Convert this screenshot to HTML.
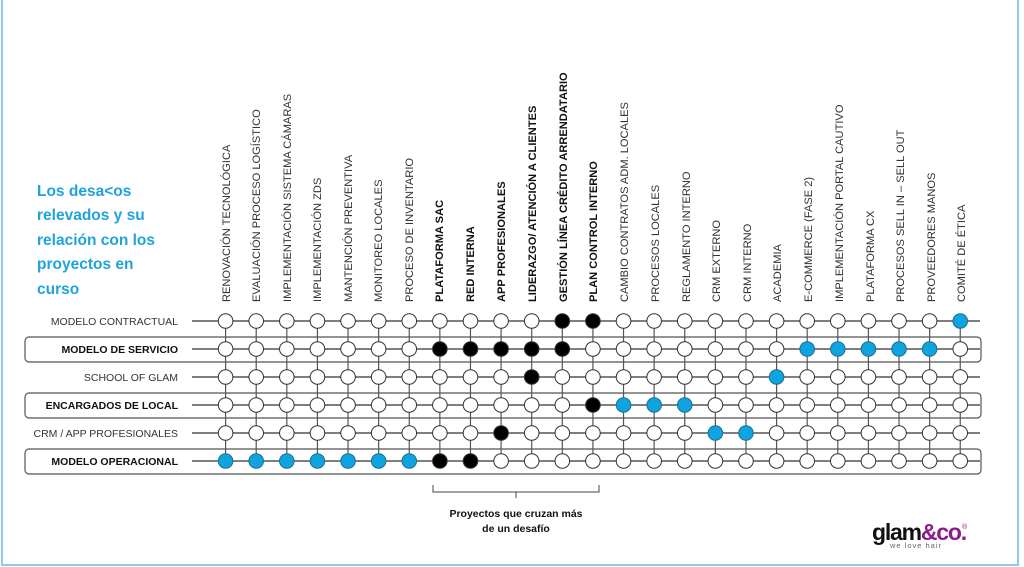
<!DOCTYPE html>
<html><head><meta charset="utf-8"><style>
html,body{margin:0;padding:0;background:#fff;}
svg{display:block;}
text{font-family:"Liberation Sans",sans-serif;}
.c{font-family:"Liberation Sans",sans-serif;font-size:10.5px;fill:#333;}
.b{font-weight:bold;fill:#111;}
</style></head><body>
<svg id="s" width="1024" height="567" viewBox="0 0 1024 567" xmlns="http://www.w3.org/2000/svg">
<rect x="0" y="0" width="1024" height="567" fill="#fff"/>
<rect x="2" y="-2" width="1016" height="567" fill="none" stroke="#8fcbe8" stroke-width="2"/>
<g font-size="15.5" font-weight="bold" fill="#1ea3dc">
<text x="37" y="196">Los desa&lt;os</text>
<text x="37" y="220">relevados y su</text>
<text x="37" y="245">relación con los</text>
<text x="37" y="269">proyectos en</text>
<text x="37" y="294">curso</text>
</g>
<g fill="none" stroke="#555" stroke-width="1.2">
<rect x="25" y="337" width="956" height="25" rx="4"/>
<rect x="25" y="393" width="956" height="25" rx="4"/>
<rect x="25" y="449" width="956" height="25" rx="4"/>
</g>
<g class="c" text-anchor="end">
<text x="178" y="325">MODELO CONTRACTUAL</text>
<text x="178" y="353" class="b">MODELO DE SERVICIO</text>
<text x="178" y="381">SCHOOL OF GLAM</text>
<text x="178" y="409" class="b">ENCARGADOS DE LOCAL</text>
<text x="178" y="437">CRM / APP PROFESIONALES</text>
<text x="178" y="465" class="b">MODELO OPERACIONAL</text>
</g>
<g id="grid"></g>
<g class="c" style="font-size:11.1px">
<text transform="translate(230,302) rotate(-90)">RENOVACIÓN TECNOLÓGICA</text>
<text transform="translate(260,302) rotate(-90)">EVALUACIÓN PROCESO LOGÍSTICO</text>
<text transform="translate(291,302) rotate(-90)">IMPLEMENTACIÓN SISTEMA CÁMARAS</text>
<text transform="translate(321,302) rotate(-90)">IMPLEMENTACIÓN ZDS</text>
<text transform="translate(352,302) rotate(-90)">MANTENCIÓN PREVENTIVA</text>
<text transform="translate(382,302) rotate(-90)">MONITOREO LOCALES</text>
<text transform="translate(413,302) rotate(-90)">PROCESO DE INVENTARIO</text>
<text class="b" transform="translate(443,302) rotate(-90)">PLATAFORMA SAC</text>
<text class="b" transform="translate(474,302) rotate(-90)">RED INTERNA</text>
<text class="b" transform="translate(505,302) rotate(-90)">APP PROFESIONALES</text>
<text class="b" transform="translate(536,302) rotate(-90)">LIDERAZGO/ ATENCIÓN A CLIENTES</text>
<text class="b" transform="translate(567,302) rotate(-90)">GESTIÓN LÍNEA CRÉDITO ARRENDATARIO</text>
<text class="b" transform="translate(597,302) rotate(-90)">PLAN CONTROL INTERNO</text>
<text transform="translate(628,302) rotate(-90)">CAMBIO CONTRATOS ADM. LOCALES</text>
<text transform="translate(659,302) rotate(-90)">PROCESOS LOCALES</text>
<text transform="translate(690,302) rotate(-90)">REGLAMENTO INTERNO</text>
<text transform="translate(720,302) rotate(-90)">CRM EXTERNO</text>
<text transform="translate(751,302) rotate(-90)">CRM INTERNO</text>
<text transform="translate(781,302) rotate(-90)">ACADEMIA</text>
<text transform="translate(812,302) rotate(-90)">E-COMMERCE (FASE 2)</text>
<text transform="translate(843,302) rotate(-90)">IMPLEMENTACIÓN PORTAL CAUTIVO</text>
<text transform="translate(874,302) rotate(-90)">PLATAFORMA CX</text>
<text transform="translate(904,302) rotate(-90)">PROCESOS SELL IN – SELL OUT</text>
<text transform="translate(935,302) rotate(-90)">PROVEEDORES MANOS</text>
<text transform="translate(965,302) rotate(-90)">COMITÉ DE ÉTICA</text>
</g>
<path d="M433 485 V492 H599 V485 M516 492 V498" fill="none" stroke="#444" stroke-width="1"/>
<g class="c b" font-size="10" text-anchor="middle">
<text x="516" y="517">Proyectos que cruzan más</text>
<text x="516" y="532">de un desafío</text>
</g>
<text x="872" y="540" font-size="23" font-weight="bold" fill="#111" letter-spacing="-1.2">glam<tspan fill="#8a1c8c">&amp;co.</tspan></text>
<text x="962" y="529" font-size="7" fill="#8a1c8c">®</text>
<text x="890" y="548" font-size="7.5" fill="#666" letter-spacing="1">we love hair</text>
</svg>
<script>
var g=document.getElementById('grid'),ns='http://www.w3.org/2000/svg';
var xs=[],ys=[321,349,377,405,433,461];
for(var i=0;i<25;i++)xs.push(225.6+30.61*i);
var fill=[
 {k:[11,12],b:[24]},
 {k:[7,8,9,10,11],b:[19,20,21,22,23]},
 {k:[10],b:[18]},
 {k:[12],b:[13,14,15]},
 {k:[9],b:[16,17]},
 {k:[7,8],b:[0,1,2,3,4,5,6]}];
function el(n,a){var e=document.createElementNS(ns,n);for(var k in a)e.setAttribute(k,a[k]);g.appendChild(e);return e;}
ys.forEach(function(y){el('line',{x1:192,y1:y,x2:980,y2:y,stroke:'#333','stroke-width':1.2});});
xs.forEach(function(x){el('line',{x1:x,y1:321,x2:x,y2:461,stroke:'#555','stroke-width':1.2});});
ys.forEach(function(y,r){xs.forEach(function(x,c){
 var f='#fff';if(fill[r].k.indexOf(c)>=0)f='#000';if(fill[r].b.indexOf(c)>=0)f='#0fa3e0';
 el('circle',{cx:x,cy:y,r:7.3,fill:f,stroke:f=='#0fa3e0'?'#1c6f95':'#333','stroke-width':1});
});});
</script>
</body></html>
